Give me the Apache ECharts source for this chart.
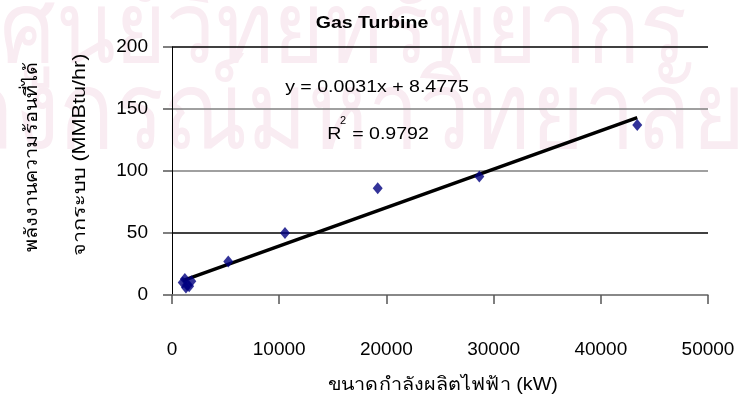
<!DOCTYPE html>
<html lang="th">
<head>
<meta charset="UTF-8">
<title>Gas Turbine</title>
<style>
  html, body { margin: 0; padding: 0; background: #fff; }
  #chart { width: 739px; height: 396px; }
</style>
<script src="https://cdn.jsdelivr.net/npm/echarts@6/dist/echarts.min.js"></script>
</head>
<body>
<div id="chart"></div>
<script>
// ข้อมูลที่อ่านจากกราฟ (kW, MMBtu/hr)
var capacityKW = [1000, 1200, 1300, 1400, 1600, 1800, 5250, 10540, 19190, 28670, 43400];
var heatMMBtu  = [10, 13, 6, 8, 7, 11, 27, 50, 86, 95.5, 137];
// เส้นแนวโน้มเชิงเส้น
var trendSlope = [0.0031];
var trendIntercept = [8.4775];
var xTicks = [0, 10000, 20000, 30000, 40000, 50000];
var yTicks = [0, 50, 100, 150, 200];

var font = 'Liberation Sans, Arial, sans-serif';
var wmColor = '#f9ecf2';

var points = capacityKW.map(function (x, i) { return [x, heatMMBtu[i]]; });
var xMin = Math.min.apply(null, capacityKW);
var xMax = Math.max.apply(null, capacityKW);
var trend = [xMin, xMax].map(function (x) { return [x, trendSlope[0] * x + trendIntercept[0]]; });

var myChart = echarts.init(document.getElementById('chart'));
var option = {
  animation: false,
  backgroundColor: '#fff',
  grid: { left: 172, right: 31, top: 47, bottom: 101 },
  xAxis: {
    type: 'value',
    min: xTicks[0], max: xTicks[xTicks.length - 1],
    interval: xTicks[1] - xTicks[0],
    axisLine: { show: true, lineStyle: { color: '#808080', width: 1.5 } },
    axisTick: { show: true, inside: false, length: 9, lineStyle: { color: '#555', width: 1.5 } },
    axisLabel: { margin: 45, fontFamily: font, fontSize: 19, color: '#000', formatter: function (v) { return String(v); } },
    splitLine: { show: false }
  },
  yAxis: {
    type: 'value',
    min: yTicks[0], max: yTicks[yTicks.length - 1],
    interval: yTicks[1] - yTicks[0],
    axisLine: { show: true, onZero: false, lineStyle: { color: '#000', width: 1 } },
    axisTick: { show: true, length: 9, lineStyle: { color: '#555', width: 1.5 } },
    axisLabel: { margin: 24, fontFamily: font, fontSize: 19, color: '#000' },
    splitLine: { show: true, lineStyle: { color: ['#808080', '#000', '#808080', '#808080', '#000'], width: 1.5 } }
  },
  graphic: [
    // ลายน้ำ
    { type: 'text', z: -10, x: 0, y: 84, scaleX: 0.93, scaleY: 1.05, style: { text: 'ศูนย์วิทยทรัพยากร', font: '94px sans-serif', fill: wmColor, verticalAlign: 'bottom' } },
    { type: 'text', z: -10, x: 745, y: 172, scaleX: 0.97, scaleY: 1.15, style: { text: 'จุฬาลงกรณ์มหาวิทยาลัย', font: '94px sans-serif', fill: wmColor, align: 'right', verticalAlign: 'bottom' } },
    { type: 'text', x: 372, y: 23, scaleX: 1.15, style: { text: 'Gas Turbine', font: 'bold 17px ' + font, fill: '#000', align: 'center', verticalAlign: 'middle' } },
    { type: 'text', x: 377, y: 87, scaleX: 1.15, style: { text: 'y = 0.0031x + 8.4775', font: '17px ' + font, fill: '#000', align: 'center', verticalAlign: 'middle' } },
    { type: 'text', x: 378, y: 134, scaleX: 1.15, style: { text: 'R  = 0.9792', font: '17px ' + font, fill: '#000', align: 'center', verticalAlign: 'middle' } },
    { type: 'text', x: 340, y: 121, style: { text: '2', font: '11px ' + font, fill: '#000', align: 'left', verticalAlign: 'middle' } },
    { type: 'text', x: 32, y: 157, rotation: Math.PI / 2, scaleX: 1.1, style: { text: 'พลังงานความร้อนที่ได้', font: '18px ' + font, fill: '#000', align: 'center', verticalAlign: 'middle' } },
    { type: 'text', x: 80, y: 155, rotation: Math.PI / 2, scaleX: 1.2, style: { text: 'จากระบบ (MMBtu/hr)', font: '18px ' + font, fill: '#000', align: 'center', verticalAlign: 'middle' } },
    { type: 'text', x: 443, y: 385, scaleX: 1.1, style: { text: 'ขนาดกำลังผลิตไฟฟ้า (kW)', font: '18px ' + font, fill: '#000', align: 'center', verticalAlign: 'middle' } }
  ],
  series: [
    {
      name: 'trend', type: 'line', data: trend, symbol: 'none', z: 3,
      lineStyle: { color: '#000', width: 3.5 }
    },
    {
      name: 'data', type: 'scatter', data: points, symbol: 'diamond', symbolSize: [10, 12], z: 4,
      itemStyle: { color: '#000080' }
    }
  ]
};
myChart.setOption(option);
</script>
</body>
</html>
